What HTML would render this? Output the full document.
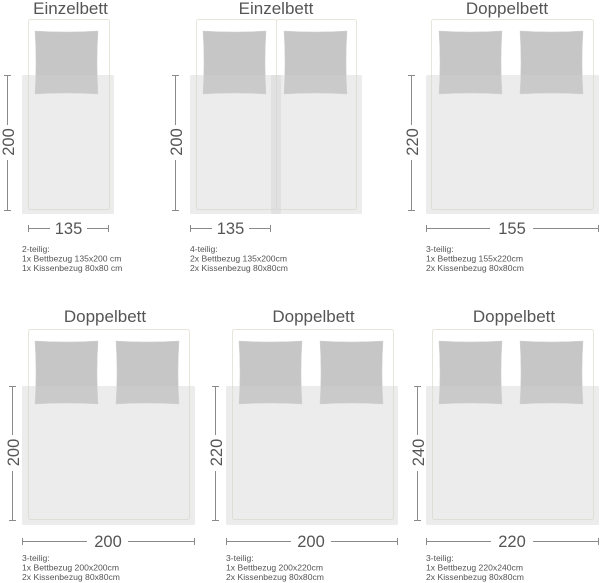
<!DOCTYPE html>
<html><head><meta charset="utf-8"><style>
html,body{margin:0;padding:0;background:#fff;}
svg{display:block;}
text{font-family:"Liberation Sans",sans-serif;fill:#555;}
.t{font-size:17px;text-anchor:middle;}
.d{font-size:16.5px;text-anchor:middle;}
.s{font-size:8.6px;}
.fr{fill:#fff;stroke:#e8e5da;stroke-width:1;}
.pl{fill:#c6c6c6;stroke:#d2d2d2;stroke-width:0.5;}
.dv{fill:#d2d2d2;fill-opacity:0.41;}
.ln{stroke:#8a8a8a;stroke-width:1;fill:none;}
</style></head><body>
<svg width="600" height="583" viewBox="0 0 600 583" xmlns="http://www.w3.org/2000/svg">
<!-- Panel 1 -->
<text class="t" x="70.5" y="14">Einzelbett</text>
<rect class="fr" x="28.5" y="19.5" width="81" height="190" rx="2"/>
<path class="pl" d="M35 31 Q66.5 33 98 31 Q96 62.5 98 94 Q66.5 92 35 94 Q37 62.5 35 31Z"/>
<rect class="dv" x="22" y="75" width="92" height="139" rx="1.5"/>
<path class="ln" d="M7.5 75.5V125M7.5 160V210.5M4 75.5H11M4 210.5H11"/>
<text class="d" transform="translate(14 142) rotate(-90)">200</text>
<path class="ln" d="M28 228.5H50M87 228.5H109M28.5 225V232M108.5 225V232"/>
<text class="d" x="68.5" y="234">135</text>
<text class="s" x="22" y="252">2-teilig:</text>
<text class="s" x="22" y="261.5">1x Bettbezug 135x200 cm</text>
<text class="s" x="22" y="271">1x Kissenbezug 80x80 cm</text>

<!-- Panel 2 -->
<text class="t" x="276" y="14">Einzelbett</text>
<rect class="fr" x="196.5" y="19.5" width="80" height="190" rx="2"/>
<rect class="fr" x="276.5" y="19.5" width="80" height="190" rx="2"/>
<path class="pl" d="M203 31 Q234.5 33 266 31 Q264 62.5 266 94 Q234.5 92 203 94 Q205 62.5 203 31Z"/>
<path class="pl" d="M284 31 Q315.5 33 347 31 Q345 62.5 347 94 Q315.5 92 284 94 Q286 62.5 284 31Z"/>
<rect class="dv" x="190" y="75" width="91" height="139" rx="1.5"/>
<rect class="dv" x="271" y="75" width="91" height="139" rx="1.5"/>
<path class="ln" d="M175.5 75.5V125M175.5 160V210.5M172 75.5H179M172 210.5H179"/>
<text class="d" transform="translate(182 142) rotate(-90)">200</text>
<path class="ln" d="M190 228.5H212M249 228.5H271M190.5 225V232M270.5 225V232"/>
<text class="d" x="230.5" y="234">135</text>
<text class="s" x="190" y="252">4-teilig:</text>
<text class="s" x="190" y="261.5">2x Bettbezug 135x200cm</text>
<text class="s" x="190" y="271">2x Kissenbezug 80x80cm</text>

<!-- Panel 3 -->
<text class="t" x="507" y="14">Doppelbett</text>
<rect class="fr" x="431.5" y="19.5" width="162" height="190" rx="2"/>
<path class="pl" d="M439 31 Q470.5 33 502 31 Q500 62.5 502 94 Q470.5 92 439 94 Q441 62.5 439 31Z"/>
<path class="pl" d="M520 31 Q551.5 33 583 31 Q581 62.5 583 94 Q551.5 92 520 94 Q522 62.5 520 31Z"/>
<rect class="dv" x="426" y="75" width="173" height="139" rx="1.5"/>
<path class="ln" d="M411.5 75.5V125M411.5 160V210.5M408 75.5H415M408 210.5H415"/>
<text class="d" transform="translate(418 142) rotate(-90)">220</text>
<path class="ln" d="M426 228.5H490M533 228.5H599M426.5 225V232M598.5 225V232"/>
<text class="d" x="512" y="234">155</text>
<text class="s" x="426" y="252">3-teilig:</text>
<text class="s" x="426" y="261.5">1x Bettbezug 155x220cm</text>
<text class="s" x="426" y="271">2x Kissenbezug 80x80cm</text>

<!-- Panel 4 -->
<text class="t" x="105" y="322">Doppelbett</text>
<rect class="fr" x="28.5" y="329.5" width="161" height="190" rx="2"/>
<path class="pl" d="M35 341 Q66.5 343 98 341 Q96 372.5 98 404 Q66.5 402 35 404 Q37 372.5 35 341Z"/>
<path class="pl" d="M116 341 Q147.5 343 179 341 Q177 372.5 179 404 Q147.5 402 116 404 Q118 372.5 116 341Z"/>
<rect class="dv" x="22" y="386" width="173" height="139" rx="1.5"/>
<path class="ln" d="M12.5 386.5V435M12.5 471V520.5M9 386.5H16M9 520.5H16"/>
<text class="d" transform="translate(19 452.5) rotate(-90)">200</text>
<path class="ln" d="M22 541.5H87M128 541.5H195M22.5 538V545M194.5 538V545"/>
<text class="d" x="108" y="547">200</text>
<text class="s" x="22" y="561">3-teilig:</text>
<text class="s" x="22" y="570.5">1x Bettbezug 200x200cm</text>
<text class="s" x="22" y="580">2x Kissenbezug 80x80cm</text>

<!-- Panel 5 -->
<text class="t" x="313.5" y="322">Doppelbett</text>
<rect class="fr" x="232.5" y="329.5" width="161" height="190" rx="2"/>
<path class="pl" d="M239 341 Q270.5 343 302 341 Q300 372.5 302 404 Q270.5 402 239 404 Q241 372.5 239 341Z"/>
<path class="pl" d="M320 341 Q351.5 343 383 341 Q381 372.5 383 404 Q351.5 402 320 404 Q322 372.5 320 341Z"/>
<rect class="dv" x="226" y="386" width="172" height="139" rx="1.5"/>
<path class="ln" d="M215.5 386.5V435M215.5 471V520.5M212 386.5H219M212 520.5H219"/>
<text class="d" transform="translate(222 452.5) rotate(-90)">220</text>
<path class="ln" d="M226 541.5H291M331 541.5H398M226.5 538V545M397.5 538V545"/>
<text class="d" x="311" y="547">200</text>
<text class="s" x="226" y="561">3-teilig:</text>
<text class="s" x="226" y="570.5">1x Bettbezug 200x220cm</text>
<text class="s" x="226" y="580">2x Kissenbezug 80x80cm</text>

<!-- Panel 6 -->
<text class="t" x="514" y="322">Doppelbett</text>
<rect class="fr" x="432.5" y="329.5" width="161" height="190" rx="2"/>
<path class="pl" d="M439 341 Q470.5 343 502 341 Q500 372.5 502 404 Q470.5 402 439 404 Q441 372.5 439 341Z"/>
<path class="pl" d="M520 341 Q551.5 343 583 341 Q581 372.5 583 404 Q551.5 402 520 404 Q522 372.5 520 341Z"/>
<rect class="dv" x="426" y="386" width="173" height="139" rx="1.5"/>
<path class="ln" d="M417.5 386.5V435M417.5 471V520.5M414 386.5H421M414 520.5H421"/>
<text class="d" transform="translate(424 452.5) rotate(-90)">240</text>
<path class="ln" d="M426 541.5H491M533 541.5H599M426.5 538V545M598.5 538V545"/>
<text class="d" x="512" y="547">220</text>
<text class="s" x="426" y="561">3-teilig:</text>
<text class="s" x="426" y="570.5">1x Bettbezug 220x240cm</text>
<text class="s" x="426" y="580">2x Kissenbezug 80x80cm</text>
</svg>
</body></html>
